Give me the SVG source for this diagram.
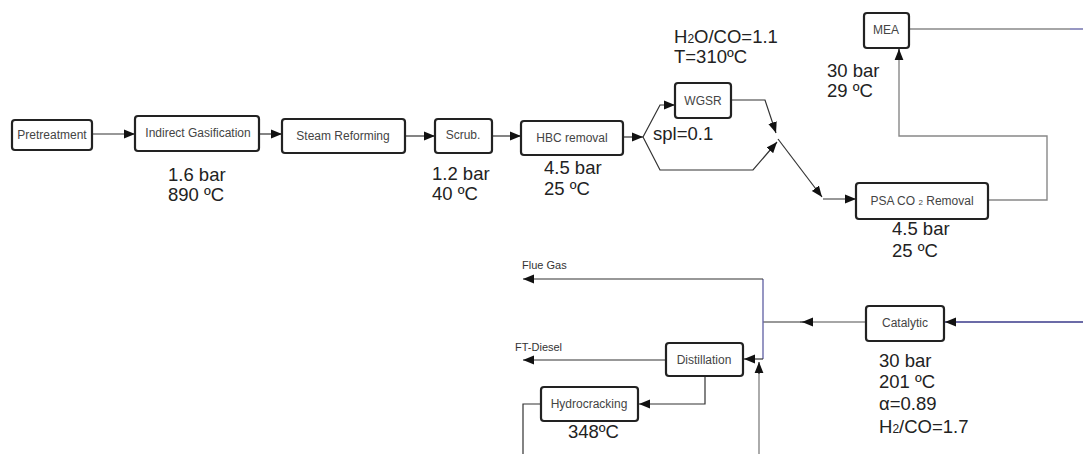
<svg xmlns="http://www.w3.org/2000/svg" width="1083" height="454" viewBox="0 0 1083 454">
<defs>
<marker id="ah" viewBox="0 0 10 10" refX="10" refY="5" markerWidth="11" markerHeight="11" markerUnits="userSpaceOnUse" orient="auto">
<path d="M0,1 L10,5 L0,9 Z" fill="#111"/>
</marker>
<style>
.box{fill:#fff;stroke:#222;stroke-width:2.2}
.bt{font-family:"Liberation Sans",Arial,sans-serif;font-size:12px;fill:#444;text-anchor:middle}
.lb{font-family:"Liberation Sans",Arial,sans-serif;font-size:18.5px;fill:#222}
.sm{font-family:"Liberation Sans",Arial,sans-serif;font-size:11px;fill:#333}
.c{fill:none;stroke:#333;stroke-width:1.2}
.g{fill:none;stroke:#888;stroke-width:1.4}
.b{fill:none;stroke:#6a6aaa;stroke-width:1.4}
.bd{fill:none;stroke:#3a3a8a;stroke-width:1.6}
</style>
</defs>
<rect width="1083" height="454" fill="#fff"/>
<g id="connectors">
<line class="c" x1="92" y1="134" x2="135" y2="134" marker-end="url(#ah)"/>
<line class="c" x1="259" y1="134" x2="282" y2="134" marker-end="url(#ah)"/>
<line class="c" x1="405" y1="136" x2="435" y2="136" marker-end="url(#ah)"/>
<line class="c" x1="492" y1="136" x2="521" y2="136" marker-end="url(#ah)"/>
<line class="c" x1="623" y1="137" x2="643" y2="137" marker-end="url(#ah)"/>
<polyline class="c" points="643,137 660,105 675,105" marker-end="url(#ah)"/>
<polyline class="c" points="643,137 660,170 753,170 777,142" marker-end="url(#ah)"/>
<polyline class="c" points="731,100 765,100 776,133" marker-end="url(#ah)"/>
<line class="c" x1="778" y1="139" x2="822" y2="197" marker-end="url(#ah)"/>
<line class="c" x1="823" y1="199" x2="856" y2="199" marker-end="url(#ah)"/>
<polyline class="g" points="988,200 1047,200 1047,136 899,136 899,49"/>
<line class="c" x1="899" y1="60" x2="899" y2="49" marker-end="url(#ah)"/>
<line class="g" x1="909" y1="29" x2="1070" y2="29"/>
<line class="b" x1="1070" y1="29" x2="1083" y2="29"/>
<line class="bd" x1="1083" y1="322" x2="945" y2="322" marker-end="url(#ah)"/>
<line class="g" x1="866" y1="322" x2="800" y2="322"/>
<line class="c" x1="812" y1="322" x2="802" y2="322" marker-end="url(#ah)"/>
<line class="c" x1="802" y1="322" x2="763" y2="322"/>
<line class="b" x1="763" y1="279" x2="763" y2="359"/>
<line class="c" x1="763" y1="279" x2="523" y2="279" marker-end="url(#ah)"/>
<line class="c" x1="763" y1="359" x2="744" y2="359" marker-end="url(#ah)"/>
<line class="g" x1="759" y1="454" x2="759" y2="372"/>
<line class="c" x1="759" y1="374" x2="759" y2="362" marker-end="url(#ah)"/>
<line class="c" x1="666" y1="360" x2="523" y2="360" marker-end="url(#ah)"/>
<polyline class="c" points="705,376 705,404 639,404" marker-end="url(#ah)"/>
<polyline class="c" points="541,404 523,404 523,454"/>
</g>
<g id="n-pretreatment"><rect class="box" x="12" y="120" width="80" height="30" rx="3"/><text class="bt" x="52" y="139">Pretreatment</text></g>
<g id="n-gasification"><rect class="box" x="135" y="116" width="124" height="35" rx="3"/><text class="bt" x="198" y="137">Indirect Gasification</text></g>
<g id="n-reforming"><rect class="box" x="282" y="119" width="123" height="34" rx="3"/><text class="bt" x="343" y="140">Steam Reforming</text></g>
<g id="n-scrub"><rect class="box" x="435" y="119" width="57" height="34" rx="3"/><text class="bt" x="463" y="139">Scrub.</text></g>
<g id="n-hbc"><rect class="box" x="521" y="121" width="102" height="34" rx="3"/><text class="bt" x="572" y="142">HBC removal</text></g>
<g id="n-wgsr"><rect class="box" x="675" y="83" width="56" height="35" rx="3"/><text class="bt" x="703" y="105">WGSR</text></g>
<g id="n-mea"><rect class="box" x="864" y="13" width="45" height="35" rx="3"/><text class="bt" x="886" y="34">MEA</text></g>
<g id="n-psa"><rect class="box" x="856" y="183" width="132" height="36" rx="3"/><text class="bt" x="922" y="205">PSA  CO <tspan font-size="8">2</tspan> Removal</text></g>
<g id="n-catalytic"><rect class="box" x="866" y="306" width="78" height="35" rx="3"/><text class="bt" x="905" y="327">Catalytic</text></g>
<g id="n-distillation"><rect class="box" x="666" y="343" width="77" height="33" rx="3"/><text class="bt" x="704" y="364">Distillation</text></g>
<g id="n-hydrocracking"><rect class="box" x="541" y="387" width="97" height="34" rx="3"/><text class="bt" x="589" y="408">Hydrocracking</text></g>
<g id="labels">
<text class="lb" x="168" y="181">1.6 bar</text>
<text class="lb" x="168" y="201">890 ºC</text>
<text class="lb" x="432" y="180">1.2 bar</text>
<text class="lb" x="432" y="200">40 ºC</text>
<text class="lb" x="544" y="174">4.5 bar</text>
<text class="lb" x="544" y="195">25 ºC</text>
<text class="lb" x="674" y="43">H<tspan font-size="12">2</tspan>O/CO=1.1</text>
<text class="lb" x="674" y="63">T=310ºC</text>
<text class="lb" x="653" y="140">spl=0.1</text>
<text class="lb" x="827" y="77">30 bar</text>
<text class="lb" x="827" y="97">29 ºC</text>
<text class="lb" x="892" y="235">4.5 bar</text>
<text class="lb" x="892" y="257">25 ºC</text>
<text class="lb" x="879" y="367">30 bar</text>
<text class="lb" x="879" y="388">201 ºC</text>
<text class="lb" x="879" y="410" font-family="Liberation Serif,serif">α<tspan font-family="Liberation Sans,Arial,sans-serif">=0.89</tspan></text>
<text class="lb" x="879" y="433">H<tspan font-size="12">2</tspan>/CO=1.7</text>
<text class="lb" x="568" y="438">348ºC</text>
<text class="sm" x="522" y="269">Flue Gas</text>
<text class="sm" x="515" y="351">FT-Diesel</text>
</g>
</svg>
